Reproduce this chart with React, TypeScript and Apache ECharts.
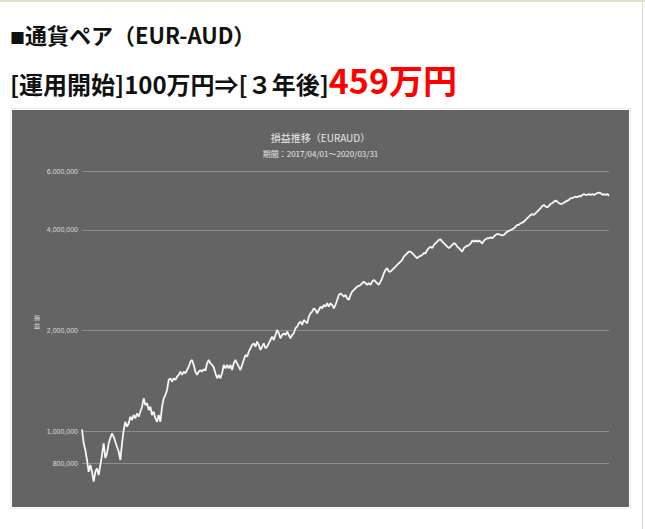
import React, { useEffect, useRef } from "react";
import * as echarts from "echarts";

const pageTitleMark = "■";
const pageTitle = "通貨ペア（EUR-AUD）";
const summaryPrefix = "[運用開始]100万円⇒[３年後]";
const summaryResult = "459万円";
const chartTitle = "損益推移（EURAUD）";
const chartSubtitle = "期間：2017/04/01～2020/03/31";
const yAxisName = "損益";
const yTicks = [800000, 1000000, 2000000, 4000000, 6000000];
const yMin = 650000;
const yMax = 7000000;

// Balance (JPY), roughly 3.5 days apart, 2017/04 - 2020/03
const balanceY1 = [
  1012000, 919000, 877000, 819000, 755000, 791000, 755000, 705000, 755000, 773000,
  738000, 791000, 847000, 919000, 830000, 857000, 919000, 953000, 984000, 961000,
  929000, 897000, 867000, 819000, 919000, 1007000, 1066000, 1030000, 1055000, 1104000,
  1079000, 1117000, 1092000, 1130000, 1104000, 1142000, 1182000, 1253000, 1196000, 1211000,
  1156000, 1182000, 1117000, 1142000, 1092000, 1066000, 1117000, 1066000, 1182000, 1253000,
  1282000, 1327000, 1422000, 1438000, 1405000, 1438000, 1422000, 1454000, 1472000, 1505000,
  1472000, 1505000, 1489000, 1523000, 1558000, 1613000, 1632000, 1577000, 1505000, 1472000, 1505000,
];
const balanceY2 = [
  1523000, 1505000, 1531000, 1516000, 1595000, 1632000, 1595000, 1577000, 1552000, 1489000,
  1438000, 1472000, 1438000, 1489000, 1577000, 1541000, 1577000, 1541000, 1577000, 1523000,
  1595000, 1632000, 1595000, 1558000, 1523000, 1577000, 1632000, 1689000, 1670000, 1728000,
  1769000, 1810000, 1831000, 1789000, 1852000, 1810000, 1749000, 1789000, 1831000, 1769000,
  1789000, 1831000, 1873000, 1917000, 1873000, 1939000, 2007000, 1962000, 1895000, 1939000,
  1962000, 1939000, 1984000, 1939000, 1895000, 1939000, 1962000, 2031000, 2053000, 2102000,
  2125000, 2078000, 2150000, 2125000, 2102000, 2200000, 2252000, 2277000, 2331000, 2304000,
  2252000, 2304000, 2357000, 2331000, 2385000, 2357000, 2413000, 2357000, 2413000, 2385000,
  2331000, 2385000, 2469000, 2555000,
];
const balanceY3 = [
  2585000, 2555000, 2526000, 2555000, 2498000, 2469000, 2555000, 2614000, 2645000, 2676000,
  2706000, 2719000, 2738000, 2770000, 2801000, 2770000, 2738000, 2770000, 2738000, 2801000,
  2834000, 2801000, 2770000, 2738000, 2801000, 2867000, 2968000, 3036000, 3072000, 3001000,
  3001000, 3036000, 3072000, 3106000, 3143000, 3180000, 3215000, 3253000, 3328000, 3367000,
  3407000, 3445000, 3445000, 3407000, 3367000, 3328000, 3291000, 3328000, 3344000, 3367000,
  3407000, 3407000, 3485000, 3527000, 3566000, 3527000, 3608000, 3650000, 3691000, 3734000,
  3752000, 3691000, 3650000, 3608000, 3566000, 3527000, 3566000, 3608000, 3650000, 3633000,
  3566000, 3527000, 3485000, 3445000, 3527000, 3566000, 3583000, 3608000, 3640000, 3716000,
  3691000, 3716000, 3691000, 3716000, 3691000, 3640000, 3716000, 3752000, 3778000, 3778000,
  3805000,
];
const balanceY4 = [
  3778000, 3820000, 3865000, 3892000, 3879000, 3865000, 3852000, 3865000, 3911000, 3954000,
  3974000, 4001000, 4020000, 4048000, 4093000, 4142000, 4142000, 4190000, 4208000, 4237000,
  4287000, 4337000, 4386000, 4437000, 4468000, 4437000, 4490000, 4539000, 4593000, 4647000,
  4721000, 4754000, 4699000, 4679000, 4721000, 4787000, 4810000, 4864000, 4897000, 4864000,
  4810000, 4787000, 4787000, 4830000, 4864000, 4897000, 4921000, 4979000, 4979000, 5013000,
  5034000, 5013000, 5059000, 5034000, 5094000, 5129000, 5094000, 5094000, 5129000, 5094000,
  5129000, 5094000, 5129000, 5154000, 5175000, 5154000, 5094000, 5129000, 5094000, 5129000,
  5059000,
];

const balance = [...balanceY1, ...balanceY2, ...balanceY3, ...balanceY4];

const fmt = (v: number) => Math.round(Math.pow(10, v)).toLocaleString("en-US");

export default function App() {
  const ref = useRef<HTMLDivElement>(null);

  useEffect(() => {
    if (!ref.current) return;
    const chart = echarts.init(ref.current, null, { renderer: "svg" });
    const tickLogs = yTicks.map((t) => Math.log10(t));
    chart.setOption({
      animation: false,
      backgroundColor: "#646464",
      title: [
        {
          text: chartTitle,
          left: "center",
          top: 17,
          textStyle: {
            color: "#e8e8e8",
            fontSize: 10,
            fontWeight: "normal",
            fontFamily: '"Noto Sans CJK JP", sans-serif',
          },
        },
        {
          text: chartSubtitle,
          left: "center",
          top: 34,
          textStyle: {
            color: "#e8e8e8",
            fontSize: 8,
            fontWeight: "normal",
            fontFamily: '"Noto Sans CJK JP", sans-serif',
          },
        },
      ],
      grid: { left: 70, right: 20, top: 38.8, bottom: 13.5, outerBoundsMode: "none" },
      xAxis: {
        type: "category",
        boundaryGap: false,
        data: balance.map((_, i) => String(i)),
        show: false,
      },
      yAxis: {
        type: "value",
        min: Math.log10(yMin),
        max: Math.log10(yMax),
        name: yAxisName.split("").join("\n"),
        nameLocation: "middle",
        nameRotate: 0,
        nameGap: 42,
        nameTextStyle: {
          color: "#dddddd",
          fontSize: 6,
          lineHeight: 8,
          fontFamily: '"Noto Sans CJK JP", sans-serif',
        },
        axisLine: { show: false },
        axisTick: { show: false, customValues: tickLogs },
        axisLabel: {
          customValues: tickLogs,
          formatter: (v: number) => fmt(v),
          color: "#dcdcdc",
          fontSize: 7,
          margin: 4,
          fontFamily: '"Liberation Sans", Arial, sans-serif',
        },
        splitLine: { show: true, lineStyle: { color: "#8e8e8e", width: 1 } },
      },
      series: [
        {
          type: "line",
          data: balance.map((v) => Math.log10(v)),
          showSymbol: false,
          lineStyle: { color: "#f6f6f6", width: 1.8 },
        },
      ],
    });
    return () => chart.dispose();
  }, []);

  return (
    <div
      style={{
        position: "fixed",
        left: 0,
        top: 0,
        width: 645,
        height: 529,
        background: "#ffffff",
        overflow: "hidden",
        fontFamily: '"Noto Sans CJK JP", sans-serif',
      }}
    >
      <div style={{ position: "absolute", left: 0, top: 0, width: 645, height: 2, background: "#e2dccf" }} />
      <div style={{ position: "absolute", right: 2, top: 0, width: 1, height: 529, background: "#d8d8d8" }} />
      <div style={{ position: "absolute", left: 10, top: 108, width: 621, height: 401, border: "1px solid #ececec", boxSizing: "border-box" }} />
      <div
        style={{
          position: "absolute",
          left: 10,
          top: 18,
          fontSize: 22,
          fontWeight: 700,
          color: "#111111",
          whiteSpace: "nowrap",
          lineHeight: "normal",
        }}
      >
        <span style={{ fontSize: 15 }}>{pageTitleMark}</span>
        {pageTitle}
      </div>
      <div
        style={{
          position: "absolute",
          left: 10,
          top: 55,
          whiteSpace: "nowrap",
          color: "#111111",
          fontWeight: 700,
          lineHeight: "normal",
        }}
      >
        <span style={{ fontSize: 24 }}>{summaryPrefix}</span>
        <span style={{ fontSize: 34, color: "#ff0000" }}>{summaryResult}</span>
      </div>
      <div ref={ref} style={{ position: "absolute", left: 12, top: 110, width: 617, height: 397 }} />
    </div>
  );
}
